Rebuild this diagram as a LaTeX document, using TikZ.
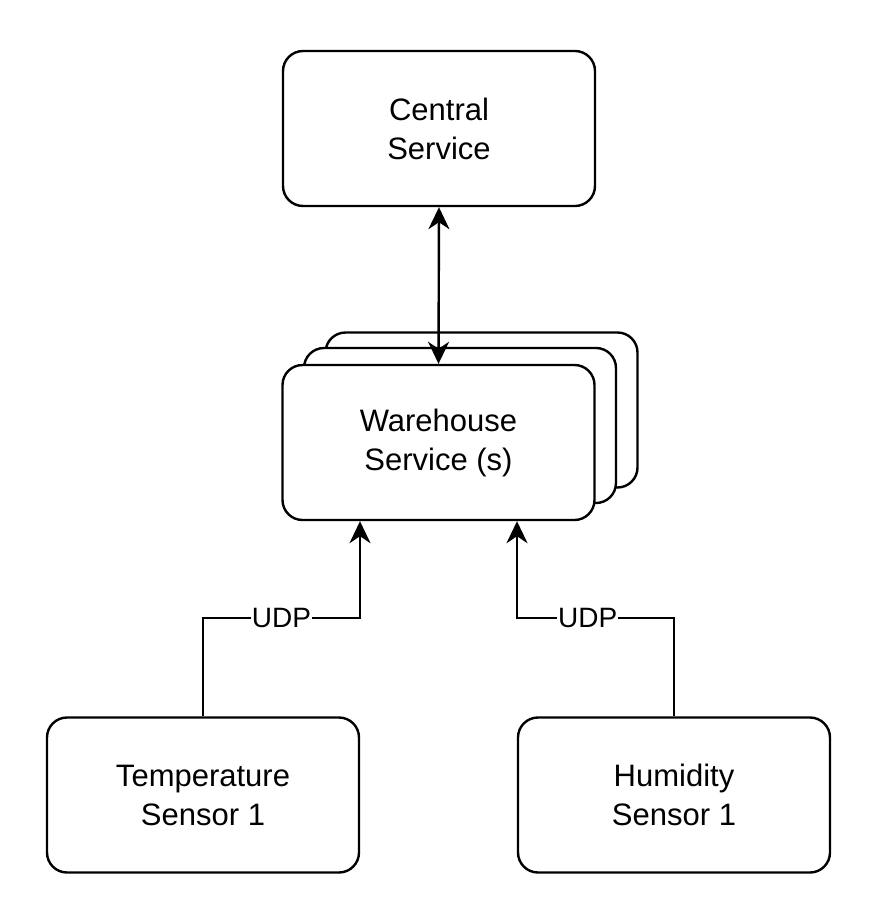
\documentclass[tikz,border=0pt]{standalone}
\usepackage{fontspec}
\setmainfont{Liberation Sans}
\usetikzlibrary{arrows.meta,calc}
\begin{document}
\begin{tikzpicture}[x=1pt,y=-1pt,
  box/.style={draw=black,fill=white,line width=2.4pt,rounded corners=20pt,
    minimum width=312pt,minimum height=155pt,inner sep=0pt,align=center,
    font=\fontsize{31}{39}\selectfont},
  conn/.style={line width=2.4pt,-{Stealth[length=22pt,width=21pt,inset=7pt]}},
  lbl/.style={fill=white,inner sep=1pt,font=\fontsize{28}{32}\selectfont}]
\useasboundingbox (0,0) rectangle (874,914);
\node[box] (central) at (439,128.5) {Central\\Service};
\node[box] (ws3) at (481.5,410) {};
\node[box] (ws2) at (460,425.5) {};
\node[box] (ws) at (438.5,442.5) {Warehouse\\Service (s)};
\node[box] (temp) at (203,795) {Temperature\\Sensor 1};
\node[box] (hum) at (674,795) {Humidity\\Sensor 1};
\draw[line width=2.4pt,{Stealth[length=22pt,width=21pt,inset=7pt]}-{Stealth[length=22pt,width=21pt,inset=7pt]}] (central.south) -- (ws.north);
\coordinate (tb1) at (203,618);
\coordinate (tb2) at (360,618);
\coordinate (hb1) at (674,618);
\coordinate (hb2) at (517,618);
\draw[conn] (temp.north) -- (tb1) -- node[lbl]{UDP} (tb2) -- (tb2 |- ws.south);
\draw[conn] (hum.north) -- (hb1) -- node[lbl,pos=0.55]{UDP} (hb2) -- (hb2 |- ws.south);
\end{tikzpicture}
\end{document}
